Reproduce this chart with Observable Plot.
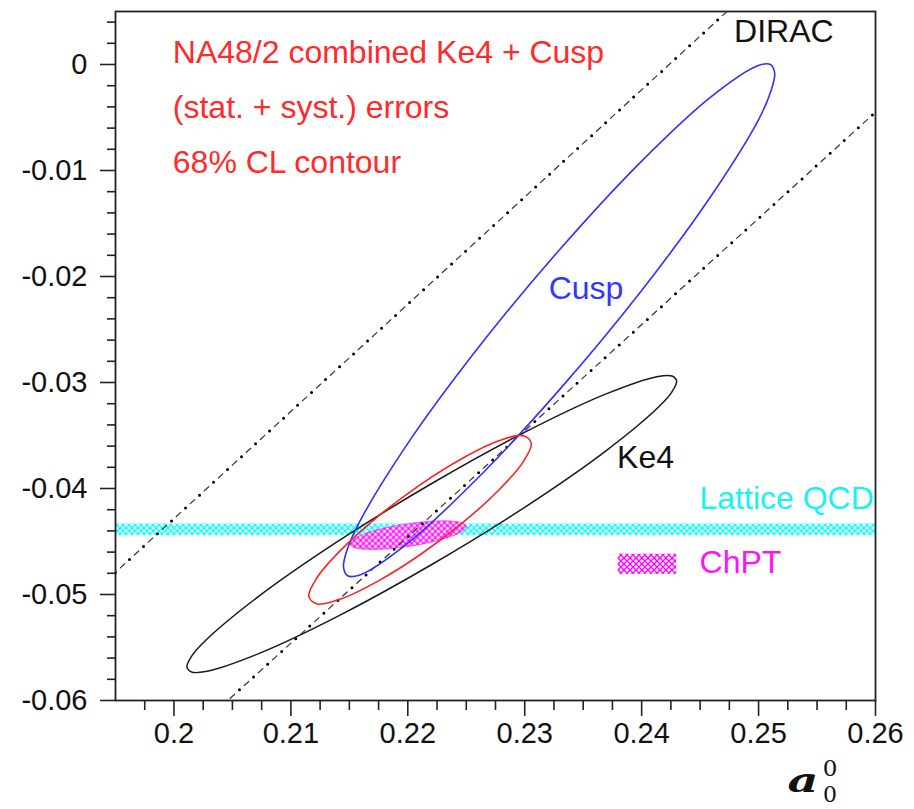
<!DOCTYPE html>
<html><head><meta charset="utf-8">
<script src="https://cdn.jsdelivr.net/npm/d3@7"></script>
<script src="https://cdn.jsdelivr.net/npm/@observablehq/plot@0.6"></script>
<style>body{margin:0;background:#fff}#chart{position:relative;width:914px;height:809px}</style>
</head><body><div id="chart"></div>
<script>
// ---- axis ticks ----
const xTicks = [0.2, 0.21, 0.22, 0.23, 0.24, 0.25, 0.26];
const xTickLabels = ["0.2", "0.21", "0.22", "0.23", "0.24", "0.25", "0.26"];
const yTicks = [-0.06, -0.05, -0.04, -0.03, -0.02, -0.01, 0];
const yTickLabels = ["-0.06", "-0.05", "-0.04", "-0.03", "-0.02", "-0.01", "0"];

// ---- 68% CL contours ----
const ke4X = [0.24299, 0.24259, 0.24140, 0.23686, 0.23006, 0.22205, 0.21404, 0.20724, 0.20270, 0.20151,
              0.20111, 0.20151, 0.20270, 0.20724, 0.21404, 0.22205, 0.23006, 0.23686, 0.24140, 0.24259];
const ke4Y = [-0.02987, -0.02939, -0.02943, -0.03112, -0.03466, -0.03953, -0.04497, -0.05018, -0.05434, -0.05582,
              -0.05683, -0.05731, -0.05727, -0.05558, -0.05204, -0.04717, -0.04173, -0.03652, -0.03236, -0.03088];

const cuspX = [0.25138, 0.25103, 0.24998, 0.24598, 0.24000, 0.23294, 0.22588, 0.21990, 0.21590, 0.21485,
               0.21450, 0.21485, 0.21590, 0.21990, 0.22588, 0.23294, 0.24000, 0.24598, 0.24998, 0.25103];
const cuspY = [-0.00085, -0.00001, -0.00009, -0.00300, -0.00911, -0.01752, -0.02692, -0.03591, -0.04309, -0.04565,
               -0.04739, -0.04823, -0.04815, -0.04524, -0.03913, -0.03072, -0.02132, -0.01233, -0.00524, -0.00259];

const combX = [0.23056, 0.22984, 0.22778, 0.22469, 0.22105, 0.21741, 0.21433, 0.21226,
               0.21154, 0.21226, 0.21432, 0.21741, 0.22105, 0.22469, 0.22777, 0.22984];
const combY = [-0.03572, -0.03501, -0.03550, -0.03714, -0.03965, -0.04267, -0.04574, -0.04837,
               -0.05018, -0.05089, -0.05040, -0.04876, -0.04625, -0.04323, -0.04016, -0.03753];

const chptX = [0.2250, 0.22462, 0.22354, 0.22191, 0.2200, 0.21809, 0.21646, 0.21538,
               0.2150, 0.21538, 0.21646, 0.21809, 0.2200, 0.22191, 0.22354, 0.22462];
const chptY = [-0.04359, -0.04324, -0.04306, -0.04309, -0.04332, -0.04371, -0.04421, -0.04474,
               -0.04521, -0.04556, -0.04574, -0.04571, -0.04548, -0.04509, -0.04459, -0.04406];

// ---- DIRAC band edges ----
const diracUpperX = [0.195, 0.2473];
const diracUpperY = [-0.0479, 0.005];
const diracLowerX = [0.2044, 0.26];
const diracLowerY = [-0.0602, -0.0045];

// ---- Lattice QCD band, ChPT legend swatch ----
const latticeBand = [{x1: 0.195, x2: 0.26, y1: -0.04445, y2: -0.04335}];
const chptSwatch = [{x1: 0.2380, x2: 0.2430, y1: -0.0481, y2: -0.0462}];

// ---- labels ----
const titleLines = ["NA48/2 combined Ke4 + Cusp", "(stat. + syst.) errors", "68% CL contour"];
const titleX = [0.1999, 0.1999, 0.1999];
const titleY = [0.00108, -0.00410, -0.00929];
const labels = [
  {text: "DIRAC", x: 0.24790, y: 0.00305, color: "#111111"},
  {text: "Cusp", x: 0.23205, y: -0.02113, color: "#3535ff"},
  {text: "Ke4", x: 0.23790, y: -0.03708, color: "#111111"},
  {text: "Lattice QCD", x: 0.24495, y: -0.04094, color: "#18f2f2"},
  {text: "ChPT", x: 0.24495, y: -0.04698, color: "#ff10ff"}
];

const pts = (xs, ys) => xs.map((x, i) => ({x, y: ys[i]}));
const ke4 = pts(ke4X, ke4Y), cusp = pts(cuspX, cuspY), comb = pts(combX, combY), chpt = pts(chptX, chptY);
const diracUpper = pts(diracUpperX, diracUpperY), diracLower = pts(diracLowerX, diracLowerY);
const title = titleLines.map((t, i) => ({text: t, x: titleX[i], y: titleY[i]}));

const xMinor = d3.range(0.1975, 0.2601, 0.0025).filter(v => !xTicks.some(t => Math.abs(t - v) < 1e-6));
const yMinor = d3.range(-0.058, 0.0041, 0.002).filter(v => !yTicks.some(t => Math.abs(t - v) < 1e-6));

const font = "'Liberation Sans', Arial, Helvetica, sans-serif";
const diracLine = (data) => [
  Plot.line(data, {x: "x", y: "y", stroke: "#333", strokeWidth: 1.2, strokeDasharray: "6 13", strokeDashoffset: -6.5, clip: true}),
  Plot.line(data, {x: "x", y: "y", stroke: "#000", strokeWidth: 3, strokeLinecap: "round", strokeDasharray: "0 19", clip: true})
];

const svg = Plot.plot({
  width: 914, height: 809,
  marginLeft: 115, marginRight: 39, marginTop: 11, marginBottom: 109,
  style: {fontFamily: font, background: "white", overflow: "visible"},
  x: {domain: [0.195, 0.26]},
  y: {domain: [-0.06, 0.005]},
  marks: [
    Plot.rect(latticeBand, {x1: "x1", x2: "x2", y1: "y1", y2: "y2", fill: "cyan"}),
    Plot.line(chpt, {x: "x", y: "y", curve: "catmull-rom-closed", stroke: "magenta", strokeWidth: 0.6}),
    Plot.rect(chptSwatch, {x1: "x1", x2: "x2", y1: "y1", y2: "y2", fill: "magenta"}),
    ...diracLine(diracUpper),
    ...diracLine(diracLower),
    Plot.line(ke4, {x: "x", y: "y", curve: "catmull-rom-closed", stroke: "#1a1a1a", strokeWidth: 1.5}),
    Plot.line(cusp, {x: "x", y: "y", curve: "catmull-rom-closed", stroke: "#3030ff", strokeWidth: 1.6}),
    Plot.line(comb, {x: "x", y: "y", curve: "catmull-rom-closed", stroke: "#ff2020", strokeWidth: 1.6}),
    Plot.text(title, {x: "x", y: "y", text: "text", textAnchor: "start", fill: "#ff2a2a", fontSize: 32}),
    Plot.text(labels, {x: "x", y: "y", text: "text", textAnchor: "start", fill: d => d.color, fontSize: 32}),
    Plot.axisX({ticks: xTicks, tickFormat: d => xTickLabels[xTicks.indexOf(d)], tickSize: 16, tickPadding: 6, fontSize: 29, label: null, stroke: "#222", strokeWidth: 1.6, fill: "#111"}),
    Plot.axisX({ticks: xMinor, tickFormat: () => "", tickSize: 10, label: null, stroke: "#222", strokeWidth: 1.6}),
    Plot.axisY({ticks: yTicks, tickFormat: d => yTickLabels[yTicks.indexOf(d)], tickSize: 15, tickPadding: 13, fontSize: 29, label: null, stroke: "#222", strokeWidth: 1.6, fill: "#111"}),
    Plot.axisY({ticks: yMinor, tickFormat: () => "", tickSize: 8, label: null, stroke: "#222", strokeWidth: 1.6}),
    Plot.frame({stroke: "#222", strokeWidth: 1.8})
  ]
});

// hatch patterns
const s = d3.select(svg);
const defs = s.insert("defs", ":first-child");
function hatch(id, color, size, w) {
  const p = defs.append("pattern").attr("id", id).attr("patternUnits", "userSpaceOnUse")
    .attr("width", size).attr("height", size);
  p.append("rect").attr("width", size).attr("height", size).attr("fill", "white");
  p.append("path").attr("d", `M0,0L${size},${size}M${size},0L0,${size}M${-size/2},${size/2}L${size/2},${-size/2}M${size/2},${size*1.5}L${size*1.5},${size/2}M${-size/2},${size/2}L${size/2},${size*1.5}M${size/2},${-size/2}L${size*1.5},${size/2}`)
    .attr("stroke", color).attr("stroke-width", w);
}
hatch("cyanHatch", "#00ffff", 6, 1.3);
hatch("magHatch", "#ff00ff", 6, 1.4);
try {
  s.selectAll("g").each(function () {
    const f = this.getAttribute("fill"), st = this.getAttribute("stroke");
    if (f === "cyan") { this.setAttribute("fill", "url(#cyanHatch)"); d3.select(this).selectAll("rect").attr("fill", "url(#cyanHatch)"); }
    if (f === "magenta") { this.setAttribute("fill", "url(#magHatch)"); d3.select(this).selectAll("rect").attr("fill", "url(#magHatch)"); }
    if (st === "magenta") { d3.select(this).selectAll("path").attr("fill", "url(#magHatch)"); }
  });
} catch (e) { console.log(e); }

// axis title a_0^0
const serif = "'DejaVu Serif', 'Liberation Serif', serif";
s.append("text").attr("transform", "translate(803,792) scale(1.45,1)")
  .attr("font-family", serif).attr("font-size", 33).attr("font-weight", "bold").attr("font-style", "italic")
  .attr("fill", "#111").text("a");
s.append("text").attr("x", 830).attr("y", 776).attr("font-family", serif)
  .attr("font-size", 23).attr("fill", "#111").text("0");
s.append("text").attr("x", 830).attr("y", 802).attr("font-family", serif)
  .attr("font-size", 22).attr("fill", "#111").text("0");

document.getElementById("chart").appendChild(svg);
</script>
</body></html>
